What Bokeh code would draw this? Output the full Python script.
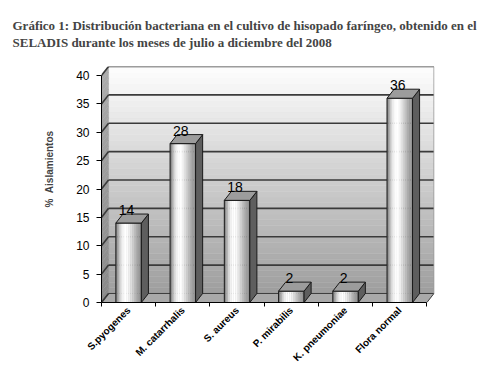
import numpy as np
from math import pi
from bokeh.plotting import figure
from bokeh.models import Range1d, FixedTicker, Title
from bokeh.core.properties import value
from bokeh.embed import file_html
from bokeh.resources import INLINE

# ---- data ----
categories = ["S.pyogenes", "M. catarrhalis", "S. aureus", "P. mirabilis", "K. pneumoniae", "Flora normal"]
values = [14, 28, 18, 2, 2, 36]
y_ticks = [0, 5, 10, 15, 20, 25, 30, 35, 40]
title_line1 = "Gráfico 1: Distribución bacteriana en el cultivo de hisopado faríngeo, obtenido en el"
title_line2 = "SELADIS durante los meses de julio a diciembre del 2008"
y_label = "\u00a0" * 11 + "%\u00a0\u00a0Aislamientos"

# ---- 3D geometry (styling) ----
DX = 0.13      # depth offset in category units
DY = 1.59      # depth offset in value units
HW = 0.235     # half width of bar front face
N = len(categories)
YMAX = y_ticks[-1]

p = figure(frame_width=333, frame_height=236,
           x_range=Range1d(0, N + 0.14), y_range=Range1d(0, YMAX + DY),
           output_backend="svg", toolbar_location=None, title=None,
           min_border_left=101, min_border_top=66, min_border_right=52, min_border_bottom=60)
p.grid.visible = False
p.outline_line_color = None
p.background_fill_color = "white"
p.border_fill_color = "white"

# back wall gradient
steps = np.arange(0, YMAX, 1.0)
t = (steps + 0.5) / YMAX
grays = (158 + 96 * t).astype(int)
wall_cols = ["#%02x%02x%02x" % (g, g, g) for g in grays]
p.quad(left=DX, right=N + DX, bottom=steps + DY, top=steps + 1 + DY,
       fill_color=wall_cols, line_color=wall_cols, line_width=0.5)

# left side wall
lg = (138 + 34 * t).astype(int)
lw_cols = ["#%02x%02x%02x" % (g, g, g) for g in lg]
p.patches(xs=[[0, DX, DX, 0] for s in steps],
          ys=[[s, s + DY, s + 1 + DY, s + 1] for s in steps],
          fill_color=lw_cols, line_color=lw_cols, line_width=0.5)

# floor
p.patch(x=[0, N, N + DX, DX], y=[0, 0, DY, DY], fill_color="#a9a9a9",
        line_color="#3c3c3c", line_width=1)

# gridlines (back + left wall diagonals)
gv = np.array(y_ticks[1:], dtype=float)
p.segment(x0=DX, x1=N + DX, y0=gv + DY, y1=gv + DY, line_color="#3a3a3a", line_width=1.6)
gv0 = np.array(y_ticks, dtype=float)
p.segment(x0=0, x1=DX, y0=gv0, y1=gv0 + DY, line_color="#3a3a3a", line_width=1.6)
p.segment(x0=[N + DX], x1=[N + DX], y0=[DY], y1=[YMAX + DY], line_color="#9a9a9a", line_width=1)

# bars
centers = np.arange(N) + 0.5
vals = np.array(values, dtype=float)
profile = [138, 175, 215, 240, 252, 255, 250, 238, 222, 205, 188, 172, 158, 148]
K = len(profile)
ql, qr, qt, qc = [], [], [], []
for c, v in zip(centers, vals):
    for k in range(K):
        ql.append(c - HW + 2 * HW * k / K)
        qr.append(c - HW + 2 * HW * (k + 1) / K)
        qt.append(v)
        qc.append("#%02x%02x%02x" % (profile[k], profile[k], profile[k]))
p.quad(left=ql, right=qr, bottom=0, top=qt, fill_color=qc, line_color=qc, line_width=0.3)
p.quad(left=centers - HW, right=centers + HW, bottom=0, top=vals,
       fill_color=None, line_color="#1a1a1a", line_width=1)
# side faces
p.patches(xs=[[c + HW, c + HW + DX, c + HW + DX, c + HW] for c in centers],
          ys=[[0, DY, v + DY, v] for v in vals],
          fill_color="#5e5e5e", line_color="#1a1a1a", line_width=1)
# top faces
p.patches(xs=[[c - HW, c + HW, c + HW + DX, c - HW + DX] for c in centers],
          ys=[[v, v, v + DY, v + DY] for v in vals],
          fill_color="#9c9c9c", line_color="#1a1a1a", line_width=1)

# value labels
p.text(x=centers, y=vals, text=[str(v) for v in values],
       text_align="center", text_baseline="alphabetic", x_offset=-2, y_offset=-13,
       text_font=value("Liberation Sans"), text_font_size="14px", text_color="black")

# x axis
p.xaxis.ticker = FixedTicker(ticks=list(centers), minor_ticks=list(range(N + 1)))
p.xaxis.major_label_overrides = {float(c): lab for c, lab in zip(centers, categories)}
p.xaxis.major_label_orientation = pi / 4
p.xaxis.major_tick_line_color = None
p.xaxis.major_tick_out = 4
p.xaxis.minor_tick_in = 0
p.xaxis.minor_tick_out = 4
p.xaxis.minor_tick_line_color = "black"
p.xaxis.bounds = (0, N)
p.xaxis.axis_line_color = "black"
p.xaxis.major_label_standoff = 2
p.xaxis.major_label_text_font = "Liberation Sans"
p.xaxis.major_label_text_font_style = "bold"
p.xaxis.major_label_text_font_size = "10px"
p.xaxis.major_label_text_color = "black"

# y axis
p.yaxis.ticker = FixedTicker(ticks=y_ticks)
p.yaxis.bounds = (0, YMAX)
p.yaxis.major_tick_in = 0
p.yaxis.major_tick_out = 5
p.yaxis.minor_tick_line_color = None
p.yaxis.axis_line_color = "black"
p.yaxis.major_label_standoff = 7
p.yaxis.major_label_text_font = "Liberation Sans"
p.yaxis.major_label_text_font_size = "12px"
p.yaxis.major_label_text_color = "black"
p.yaxis.axis_label = y_label
p.yaxis.axis_label_text_font = "Liberation Sans"
p.yaxis.axis_label_text_font_style = "bold"
p.yaxis.axis_label_text_font_size = "10px"
p.yaxis.axis_label_standoff = 18

# title (two lines)
t1 = Title(text=title_line1 + "\n" + title_line2, text_font="Liberation Serif",
           text_font_size="13px", text_font_style="bold", align="left",
           vertical_align="top", standoff=29, offset=-89, text_line_height=1.15)
p.add_layout(t1, "above")

open("out.html", "w").write(file_html(p, INLINE))
